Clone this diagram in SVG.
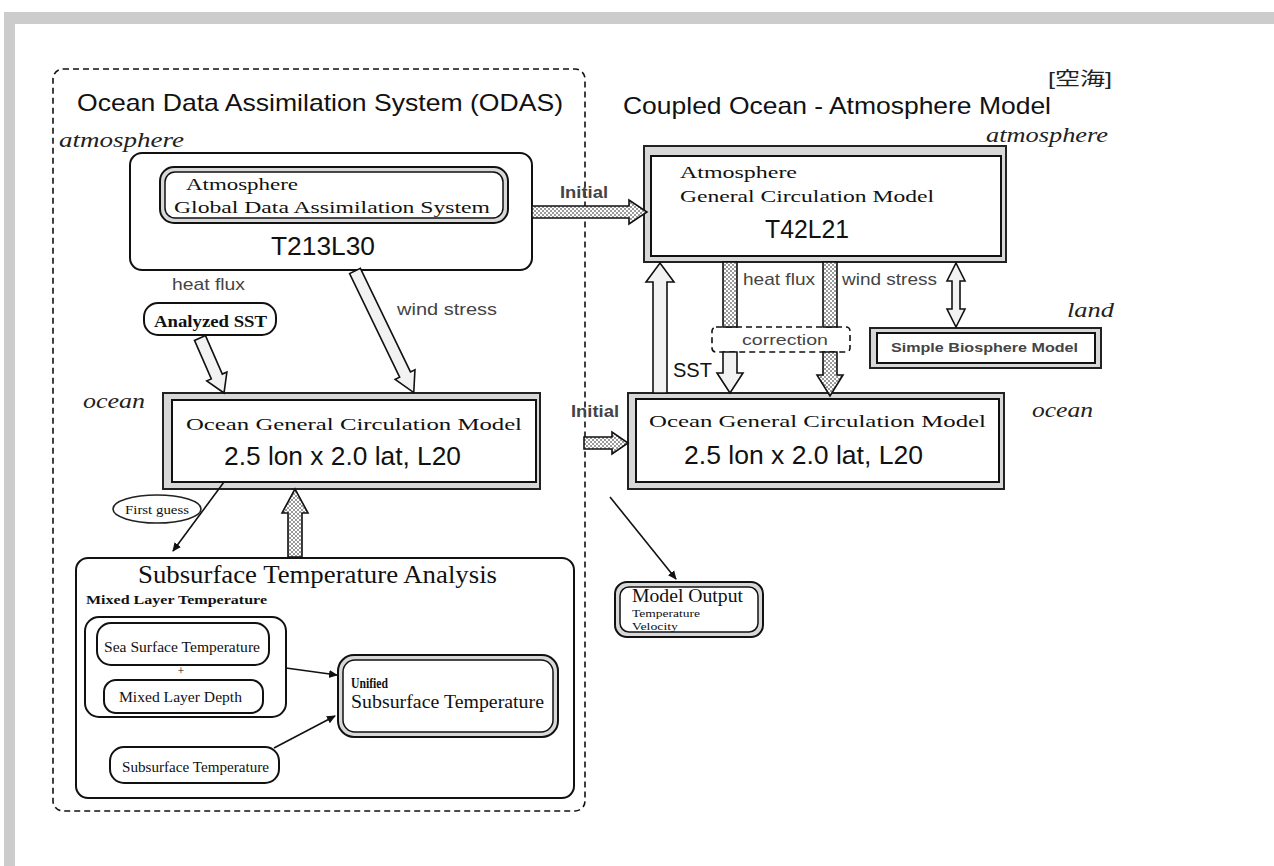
<svg xmlns="http://www.w3.org/2000/svg" width="1274" height="866" viewBox="0 0 1274 866">
<defs>
<pattern id="chk" width="4" height="4" patternUnits="userSpaceOnUse">
<rect width="4" height="4" fill="#fff"/>
<rect width="2" height="2" fill="#9a9a9a"/>
<rect x="2" y="2" width="2" height="2" fill="#9a9a9a"/>
</pattern>
<linearGradient id="ul" x1="0" y1="0" x2="1" y2="0">
<stop offset="0" stop-color="#222"/>
<stop offset="0.5" stop-color="#888"/>
<stop offset="1" stop-color="#222"/>
</linearGradient>
<marker id="tri" markerWidth="10" markerHeight="10" refX="8" refY="5" orient="auto" markerUnits="userSpaceOnUse">
<path d="M0,1 L9,5 L0,9 Z" fill="#111"/>
</marker>
</defs>
<style>
.sans{font-family:"Liberation Sans",Arial,sans-serif;fill:#111}
.serif{font-family:"Liberation Serif","Times New Roman",serif;fill:#111}
.ital{font-family:"Liberation Serif","Times New Roman",serif;font-style:italic;fill:#222}
.lbl{font-family:"Liberation Sans",Arial,sans-serif;fill:#444}
.box{fill:#fff;stroke:#111;stroke-width:2}
.gap{fill:#d8d8d8;stroke:#222;stroke-width:2}
.dash{fill:none;stroke:#111;stroke-width:1.6;stroke-dasharray:6 4}
.harrow{fill:url(#chk);stroke:#111;stroke-width:1.6;stroke-linejoin:miter}
.warrow{fill:#f2f2f2;stroke:#111;stroke-width:1.6;stroke-linejoin:miter}
.thin{fill:none;stroke:#111;stroke-width:1.6;marker-end:url(#tri)}
</style>
<rect width="1274" height="866" fill="#fff"/>
<rect x="4" y="12" width="1270" height="12" fill="#cccccc"/>
<rect x="4" y="12" width="11" height="854" fill="#cccccc"/>

<g id="odas">
<rect class="dash" x="53" y="69" width="532" height="742" rx="10"/>
<text class="sans" x="77" y="111" font-size="24" textLength="486" lengthAdjust="spacingAndGlyphs">Ocean Data Assimilation System (ODAS)</text>
<line x1="69" y1="117" x2="567" y2="117" stroke="url(#ul)" stroke-width="2.5"/>
<text class="ital" x="59" y="147" font-size="20" textLength="125" lengthAdjust="spacingAndGlyphs">atmosphere</text>
<text class="ital" x="83" y="408" font-size="20" textLength="62" lengthAdjust="spacingAndGlyphs">ocean</text>
</g>

<g id="coupled">
<text font-family="'Liberation Sans','Noto Sans CJK JP',sans-serif" x="1048" y="85" font-size="18" fill="#222" textLength="64" lengthAdjust="spacingAndGlyphs">[空海]</text>
<text class="sans" x="623" y="114" font-size="24" textLength="428" lengthAdjust="spacingAndGlyphs">Coupled Ocean - Atmosphere Model</text>
<line x1="608" y1="120" x2="1058" y2="120" stroke="url(#ul)" stroke-width="2.5"/>
<text class="ital" x="1108" y="142" font-size="20" text-anchor="end" textLength="122" lengthAdjust="spacingAndGlyphs">atmosphere</text>
<text class="ital" x="1067" y="317" font-size="20" textLength="47" lengthAdjust="spacingAndGlyphs">land</text>
<text class="ital" x="1032" y="417" font-size="20" textLength="61" lengthAdjust="spacingAndGlyphs">ocean</text>
</g>

<g id="gdas">
<rect class="box" x="130" y="153" width="402" height="117" rx="12"/>
<rect x="160" y="167" width="348" height="56" rx="14" fill="#d8d8d8" stroke="#111" stroke-width="2"/>
<rect x="165" y="172" width="338" height="46" rx="10" fill="#fff" stroke="#111" stroke-width="1.5"/>
<text class="serif" x="186" y="190" font-size="16" textLength="112" lengthAdjust="spacingAndGlyphs">Atmosphere</text>
<text class="serif" x="174" y="213" font-size="16" textLength="316" lengthAdjust="spacingAndGlyphs">Global  Data  Assimilation  System</text>
<text class="sans" x="271" y="255" font-size="26" textLength="104" lengthAdjust="spacingAndGlyphs">T213L30</text>
</g>

<g id="labels-left">
<text class="lbl" x="172" y="290" font-size="17" textLength="73" lengthAdjust="spacingAndGlyphs">heat flux</text>
<text class="lbl" x="397" y="315" font-size="17" textLength="100" lengthAdjust="spacingAndGlyphs">wind stress</text>
<text class="lbl" x="560" y="198" font-size="17" font-weight="bold" textLength="48" lengthAdjust="spacingAndGlyphs">Initial</text>
<text class="lbl" x="571" y="417" font-size="17" font-weight="bold" textLength="48" lengthAdjust="spacingAndGlyphs">Initial</text>
</g>

<g id="analyzed-sst">
<rect class="box" x="144" y="303" width="132" height="32" rx="14"/>
<text class="serif" x="154" y="327" font-size="16" font-weight="bold" textLength="113" lengthAdjust="spacingAndGlyphs">Analyzed SST</text>
</g>

<g id="ogcm-left">
<rect class="gap" x="163" y="393" width="377" height="96"/>
<rect class="box" x="172" y="400" width="364" height="82"/>
<text class="serif" x="186" y="430" font-size="17" textLength="336" lengthAdjust="spacingAndGlyphs">Ocean General Circulation Model</text>
<text class="sans" x="224" y="465" font-size="26" textLength="237" lengthAdjust="spacingAndGlyphs">2.5 lon x 2.0 lat, L20</text>
</g>

<g id="first-guess">
<ellipse cx="157" cy="509" rx="44" ry="14" fill="#fff" stroke="#222" stroke-width="1.6"/>
<text class="serif" x="157" y="514" font-size="12" text-anchor="middle" textLength="64" lengthAdjust="spacingAndGlyphs">First guess</text>
</g>

<g id="sta">
<rect class="box" x="76" y="558" width="498" height="240" rx="12"/>
<text class="serif" x="138" y="583" font-size="26" textLength="359" lengthAdjust="spacingAndGlyphs">Subsurface Temperature Analysis</text>
<text class="serif" x="86" y="604" font-size="13" font-weight="bold" textLength="181" lengthAdjust="spacingAndGlyphs">Mixed Layer Temperature</text>
</g>

<g id="mixed-layer">
<rect class="box" x="85" y="617" width="201" height="100" rx="14"/>
</g>

<g id="sea-surface-temperature">
<rect class="box" x="97" y="623" width="172" height="42" rx="14"/>
<text class="serif" x="104" y="652" font-size="14" textLength="156" lengthAdjust="spacingAndGlyphs">Sea Surface Temperature</text>
</g>
<text class="serif" x="181" y="675" font-size="12" text-anchor="middle">+</text>

<g id="mixed-layer-depth">
<rect class="box" x="104" y="680" width="159" height="33" rx="12"/>
<text class="serif" x="119" y="702" font-size="14" textLength="123" lengthAdjust="spacingAndGlyphs">Mixed Layer Depth</text>
</g>

<g id="unified">
<rect x="338" y="655" width="220" height="82" rx="16" fill="#d8d8d8" stroke="#111" stroke-width="2"/>
<rect x="343" y="660" width="210" height="72" rx="12" fill="#fff" stroke="#111" stroke-width="1.5"/>
<text class="serif" x="351" y="688" font-size="14" font-weight="bold" textLength="37" lengthAdjust="spacingAndGlyphs">Unified</text>
<text class="serif" x="351" y="708" font-size="18" textLength="193" lengthAdjust="spacingAndGlyphs">Subsurface Temperature</text>
</g>

<g id="subsurface-temperature">
<rect class="box" x="110" y="747" width="169" height="36" rx="14"/>
<text class="serif" x="122" y="772" font-size="14" textLength="147" lengthAdjust="spacingAndGlyphs">Subsurface Temperature</text>
</g>

<g id="agcm">
<rect class="gap" x="644" y="146" width="362" height="116"/>
<rect class="box" x="651" y="156" width="350" height="100"/>
<text class="serif" x="680" y="178" font-size="17" textLength="117" lengthAdjust="spacingAndGlyphs">Atmosphere</text>
<text class="serif" x="680" y="202" font-size="17" textLength="254" lengthAdjust="spacingAndGlyphs">General  Circulation  Model</text>
<text class="sans" x="765" y="238" font-size="26" textLength="84" lengthAdjust="spacingAndGlyphs">T42L21</text>
</g>

<g id="labels-right">
<text class="lbl" x="743" y="285" font-size="17" textLength="72" lengthAdjust="spacingAndGlyphs">heat flux</text>
<text class="lbl" x="842" y="285" font-size="17" textLength="95" lengthAdjust="spacingAndGlyphs">wind stress</text>
<text class="sans" x="673" y="377" font-size="20" textLength="39" lengthAdjust="spacingAndGlyphs">SST</text>
</g>

<g id="correction">
<rect class="dash" x="712" y="327" width="138" height="25" rx="4" style="fill:#fff"/>
<text class="lbl" x="742" y="345" font-size="15" textLength="86" lengthAdjust="spacingAndGlyphs">correction</text>
</g>

<g id="sib">
<rect class="gap" x="870" y="328" width="231" height="40"/>
<rect class="box" x="877" y="333" width="218" height="30"/>
<text class="lbl" x="891" y="352" font-size="13" font-weight="bold" textLength="187" lengthAdjust="spacingAndGlyphs">Simple Biosphere Model</text>
</g>

<g id="ogcm-right">
<rect class="gap" x="628" y="393" width="376" height="96"/>
<rect class="box" x="636" y="399" width="363" height="83"/>
<text class="serif" x="649" y="427" font-size="17" textLength="337" lengthAdjust="spacingAndGlyphs">Ocean General Circulation Model</text>
<text class="sans" x="684" y="464" font-size="26" textLength="239" lengthAdjust="spacingAndGlyphs">2.5 lon x 2.0 lat, L20</text>
</g>

<g id="model-output">
<rect x="615" y="582" width="148" height="55" rx="12" fill="#d8d8d8" stroke="#111" stroke-width="2"/>
<rect x="620" y="587" width="138" height="45" rx="9" fill="#fff" stroke="#111" stroke-width="1.5"/>
<text class="serif" x="632" y="602" font-size="18" textLength="111" lengthAdjust="spacingAndGlyphs">Model Output</text>
<text class="serif" x="632" y="617" font-size="11" textLength="68" lengthAdjust="spacingAndGlyphs">Temperature</text>
<text class="serif" x="632" y="630" font-size="10" textLength="46" lengthAdjust="spacingAndGlyphs">Velocity</text>
</g>

<g id="connectors">
<polygon class="harrow" transform="translate(532,212)" points="0,-6 97,-6 97,-12 115,0 97,12 97,6 0,6"/>
<polygon class="harrow" transform="translate(584,443)" points="0,-6 28,-6 28,-11 44,0 28,11 28,6 0,6"/>
<polygon class="warrow" transform="translate(200,338) rotate(66.4)" points="0,-6 42,-6 42,-11 60,0 42,11 42,6 0,6"/>
<polygon class="warrow" transform="translate(355,271) rotate(64.2)" points="0,-6 115,-6 115,-11 135,0 115,11 115,6 0,6"/>
<polygon class="harrow" transform="translate(295,557) rotate(-90)" points="0,-7 44,-7 44,-13 68,0 44,13 44,7 0,7"/>
<polygon class="warrow" transform="translate(660,393) rotate(-90)" points="0,-7 111,-7 111,-14 130,0 111,14 111,7 0,7"/>
<rect class="harrow" x="723" y="262" width="14" height="65"/>
<polygon class="warrow" transform="translate(730,352) rotate(90)" points="0,-7 21,-7 21,-13 41,0 21,13 21,7 0,7"/>
<rect class="harrow" x="823" y="262" width="14" height="65"/>
<polygon class="harrow" transform="translate(830,352) rotate(90)" points="0,-7 23,-7 23,-13 44,0 23,13 23,7 0,7"/>
<polygon class="warrow" points="956,263 965,281 960,281 960,309 965,309 956,327 947,309 952,309 952,281 947,281"/>
<line class="thin" x1="224" y1="482" x2="173" y2="551"/>
<line class="thin" x1="286" y1="668" x2="337" y2="675"/>
<line class="thin" x1="274" y1="748" x2="335" y2="716"/>
<line class="thin" x1="610" y1="497" x2="676" y2="579"/>
</g>
</svg>
